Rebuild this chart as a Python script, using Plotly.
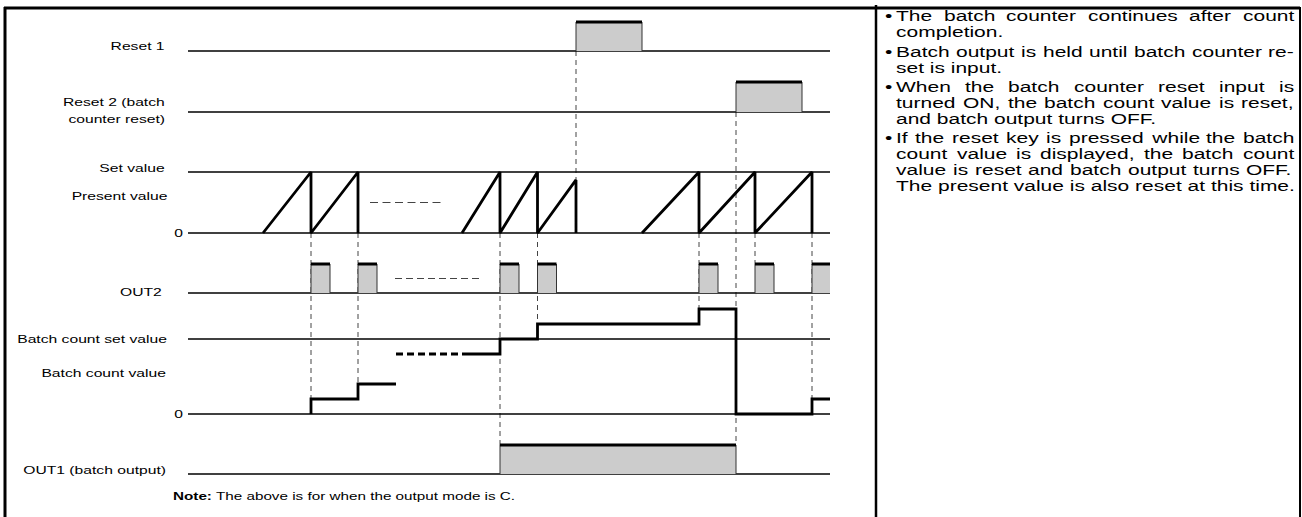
import json
import plotly.graph_objects as go

# ---------------------------------------------------------------- data
# time values are in diagram time units
T_START, T_END = 188, 830

RESET1_ON, RESET1_OFF = [576], [642]
RESET2_ON, RESET2_OFF = [736], [802]
OUT2_ON = [311, 358, 500, 537.5, 699, 755, 812]
OUT2_LEN = 19
OUT1_ON, OUT1_OFF = [500], [736]

# present value, as a fraction of the set value
PV_T = [263, 311, 311, 358, 358, None,
        462, 500, 500, 537.5, 537.5, 576, 576, None,
        642, 699, 699, 755, 755, 812, 812]
PV_V = [0, 1, 0, 1, 0, None,
        0, 1, 0, 1, 0, 0.87, 0, None,
        0, 1, 0, 1, 0, 1, 0]

# batch count value, in counts (batch count set value = 5)
BC_SET = 5
BC_T_A = [311, 311, 358, 358, 396]
BC_V_A = [0, 1, 1, 2, 2]
BC_T_DASH = [396, 462]
BC_V_DASH = [4, 4]
BC_T_B = [462, 500, 500, 537.5, 537.5, 699, 699, 736, 736, 812, 812, 830]
BC_V_B = [4, 4, 5, 5, 6, 6, 7, 7, 0, 0, 1, 1]

# elided sections
PV_ELLIPSIS_T, PV_ELLIPSIS_V = [370, 445], 0.5
OUT2_ELLIPSIS_T, OUT2_ELLIPSIS_V = [395, 482], 0.5

# dashed timing guides: time, start (row, level), end (row, level)
GUIDE_T = [311, 358, 500, 537.5, 576, 699, 736, 755, 812]
GUIDE_FROM = [("pv", 0), ("pv", 0), ("pv", 0), ("pv", 0), ("reset1", 0),
              ("pv", 0), ("reset2", 0), ("pv", 0), ("pv", 0)]
GUIDE_TO = [("bc", 0), ("bc", 1), ("out1", 1), ("bc", 6), ("pv", 0.87),
            ("bc", 7), ("out1", 1), ("out2", 1), ("bc", 0)]

ROW_LABELS = ["Reset 1", "Reset 2 (batch", "counter reset)", "Set value",
              "Present value", "0", "OUT2", "Batch count set value",
              "Batch count value", "0", "OUT1 (batch output)"]
NOTE = "<b>Note:</b> The above is for when the output mode is C."

PARAGRAPHS = [
    ["The batch counter continues after count", "completion."],
    ["Batch output is held until batch counter re-", "set is input."],
    ["When the batch counter reset input is",
     "turned ON, the batch count value is reset,",
     "and batch output turns OFF."],
    ["If the reset key is pressed while the batch",
     "count value is displayed, the batch count",
     "value is reset and batch output turns OFF.",
     "The present value is also reset at this time."],
]

# ---------------------------------------------------------------- layout
W, H = 1302, 517
FONT = "Liberation Sans, Arial, Helvetica, sans-serif"
STRETCH = 1.4          # reference text is horizontally stretched

# row: (baseline pixel, pixels per unit level)
ROWS = {
    "reset1": (51, 29),
    "reset2": (112, 30),
    "pv": (233, 61),
    "out2": (293, 29),
    "bc": (414, 15),
    "out1": (474, 29),
}


def Y(row, v):
    if v is None:
        return None
    base, h = ROWS[row]
    return base - v * h


LABEL_X = [166, 166, 166, 166, 168, 184, 163, 168, 167, 184, 167]
LABEL_Y = [46, 102, 119, 168, 196, 233, 292, 339, 373, 414, 470]
LABEL_SIZE = 11.2
NOTE_X, NOTE_Y, NOTE_SIZE = 172, 496, 10.9

TXT_SIZE = 15
TXT_L, TXT_R, BULLET_X = 895, 1293, 884
LINE_Y = [15, 31, 51, 67, 86, 102, 118, 137, 153, 169, 185]

HELV = {" ": 278, "•": 350, ",": 278, ".": 278, "-": 333, "(": 333, ")": 333,
        ":": 278}
for c in "0123456789":
    HELV[c] = 556
for c, w in zip("ABCDEFGHIJKLMNOPQRSTUVWXYZ",
                [667, 667, 722, 722, 667, 611, 778, 722, 278, 500, 667, 556, 833,
                 722, 778, 667, 778, 722, 667, 611, 722, 667, 944, 667, 667, 611]):
    HELV[c] = w
for c, w in zip("abcdefghijklmnopqrstuvwxyz",
                [556, 556, 500, 556, 556, 278, 556, 556, 222, 222, 500, 222, 833,
                 556, 556, 556, 556, 333, 500, 278, 556, 500, 722, 500, 500, 500]):
    HELV[c] = w


def text_w(s, size):
    return sum(HELV.get(c, 556) for c in s) * size / 1000 * STRETCH


fig = go.Figure()

# guides
gx, gy = [], []
for t, a, b in zip(GUIDE_T, GUIDE_FROM, GUIDE_TO):
    gx += [t, t, None]
    gy += [Y(*a), Y(*b), None]
fig.add_trace(go.Scatter(x=gx, y=gy, mode="lines",
                         line=dict(color="#444", width=1, dash="5px,4px")))

# baselines
bx, by = [], []
for row, lvl in [("reset1", 0), ("reset2", 0), ("pv", 1), ("pv", 0),
                 ("out2", 0), ("bc", BC_SET), ("bc", 0), ("out1", 0)]:
    bx += [T_START, T_END, None]
    by += [Y(row, lvl), Y(row, lvl), None]
fig.add_trace(go.Scatter(x=bx, y=by, mode="lines",
                         line=dict(color="black", width=1.4)))

# pulses
pulses = []
for on, off in zip(RESET1_ON, RESET1_OFF):
    pulses.append(("reset1", on, off))
for on, off in zip(RESET2_ON, RESET2_OFF):
    pulses.append(("reset2", on, off))
for on in OUT2_ON:
    pulses.append(("out2", on, on + OUT2_LEN))
for on, off in zip(OUT1_ON, OUT1_OFF):
    pulses.append(("out1", on, off))

fx, fy, sx, sy, tx, ty = [], [], [], [], [], []
for row, on, off in pulses:
    clipped = off > T_END
    off = min(off, T_END)
    lo, hi = Y(row, 0), Y(row, 1)
    fx += [on, on, off, off, on, None]
    fy += [lo, hi, hi, lo, lo, None]
    sx += [on, on, None]
    sy += [lo, hi, None]
    if not clipped:
        sx += [off, off, None]
        sy += [lo, hi, None]
    tx += [on, off, None]
    ty += [hi, hi, None]
fig.add_trace(go.Scatter(x=fx, y=fy, mode="lines", fill="toself",
                         fillcolor="#cccccc", line=dict(width=0)))
fig.add_trace(go.Scatter(x=sx, y=sy, mode="lines",
                         line=dict(color="#333", width=1)))
fig.add_trace(go.Scatter(x=tx, y=ty, mode="lines",
                         line=dict(color="black", width=3)))

# present value sawtooth
fig.add_trace(go.Scatter(x=PV_T, y=[Y("pv", v) for v in PV_V], mode="lines",
                         connectgaps=False,
                         line=dict(color="black", width=2.8)))

# ellipses
fig.add_trace(go.Scatter(x=PV_ELLIPSIS_T, y=[Y("pv", PV_ELLIPSIS_V)] * 2,
                         mode="lines",
                         line=dict(color="#444", width=1, dash="8px,4.5px")))
fig.add_trace(go.Scatter(x=OUT2_ELLIPSIS_T, y=[Y("out2", OUT2_ELLIPSIS_V)] * 2,
                         mode="lines",
                         line=dict(color="#444", width=1, dash="7px,4px")))

# batch count value
fig.add_trace(go.Scatter(x=BC_T_A, y=[Y("bc", v) for v in BC_V_A], mode="lines",
                         line=dict(color="black", width=2.8)))
fig.add_trace(go.Scatter(x=BC_T_DASH, y=[Y("bc", v) for v in BC_V_DASH],
                         mode="lines",
                         line=dict(color="black", width=2.8, dash="7px,4px")))
fig.add_trace(go.Scatter(x=BC_T_B, y=[Y("bc", v) for v in BC_V_B], mode="lines",
                         line=dict(color="black", width=2.8)))

# annotations
ann = []
for txt, x, y in zip(ROW_LABELS, LABEL_X, LABEL_Y):
    ann.append(dict(x=x, y=y, text=txt, xanchor="right", align="right",
                    yanchor="middle", font=dict(size=LABEL_SIZE)))
ann.append(dict(x=NOTE_X, y=NOTE_Y, text=NOTE, xanchor="left", align="left",
                yanchor="middle", font=dict(size=NOTE_SIZE)))

li = 0
for para in PARAGRAPHS:
    for k, line in enumerate(para):
        y = LINE_Y[li]
        li += 1
        if k == 0:
            ann.append(dict(x=BULLET_X, y=y, text="•", xanchor="left",
                            align="left", yanchor="middle",
                            font=dict(size=TXT_SIZE)))
        words = line.split(" ")
        last = k == len(para) - 1
        if last or len(words) == 1:
            ann.append(dict(x=TXT_L, y=y, text=line, xanchor="left",
                            align="left", yanchor="middle",
                            font=dict(size=TXT_SIZE)))
            continue
        widths = [text_w(w_, TXT_SIZE) for w_ in words]
        gap = (TXT_R - TXT_L - sum(widths)) / (len(words) - 1)
        x = TXT_L
        for w_, wd in zip(words, widths):
            ann.append(dict(x=x, y=y, text=w_, xanchor="left", align="left",
                            yanchor="middle", font=dict(size=TXT_SIZE)))
            x += wd + gap

for a in ann:
    a.update(xref="x", yref="y", showarrow=False, borderpad=0)

frame = [
    dict(x0=4, x1=1300, y0=8, y1=8, w=3),
    dict(x0=5, x1=5, y0=7, y1=H, w=3),
    dict(x0=876, x1=876, y0=5, y1=H, w=2.5),
    dict(x0=1300, x1=1300, y0=7, y1=H, w=2),
]
shapes = [dict(type="line", xref="x", yref="y", x0=f["x0"], x1=f["x1"],
               y0=f["y0"], y1=f["y1"], line=dict(color="black", width=f["w"]))
          for f in frame]

fig.update_layout(
    width=W, height=H, margin=dict(l=0, r=0, t=0, b=0),
    paper_bgcolor="white", plot_bgcolor="white",
    showlegend=False,
    font=dict(family=FONT, color="black"),
    xaxis=dict(range=[0, W], visible=False, fixedrange=True),
    yaxis=dict(range=[H, 0], visible=False, fixedrange=True),
    annotations=ann, shapes=shapes,
)
for tr in fig.data:
    tr.update(hoverinfo="skip", cliponaxis=False)

css = ("html,body{margin:0;padding:0;overflow:hidden;}"
       ".annotation-text{transform-box:fill-box;transform:scaleX(%s);}"
       ".annotation-text[text-anchor='start']{transform-origin:0%% 50%%;}"
       ".annotation-text[text-anchor='end']{transform-origin:100%% 50%%;}"
       ".annotation-text[text-anchor='middle']{transform-origin:50%% 50%%;}"
       % STRETCH)
post = ("var s=document.createElement('style');s.textContent=%s;"
        "document.head.appendChild(s);" % json.dumps(css))
fig.write_html("out.html", post_script=post,
               config={"displayModeBar": False, "staticPlot": True})
